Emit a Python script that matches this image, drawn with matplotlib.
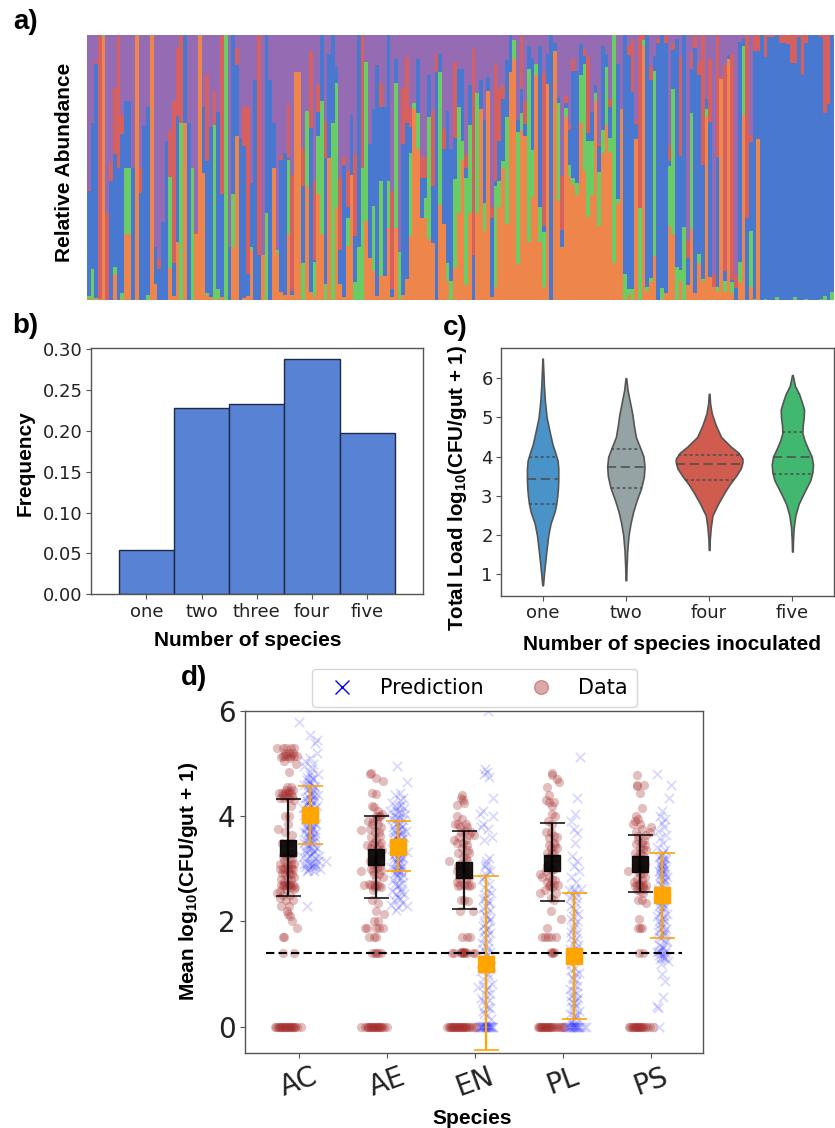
import numpy as np
import matplotlib
matplotlib.use("Agg")
import matplotlib.pyplot as plt
from matplotlib.lines import Line2D

plt.rcParams['mathtext.fontset'] = 'custom'
plt.rcParams['mathtext.bf'] = 'Liberation Sans:bold'
plt.rcParams['mathtext.rm'] = 'Liberation Sans:bold'

W, H = 835., 1128.

# panel a: cumulative tops (percent) per community
orange_top = [.5,.5,.5,.5,99.4,0,0,10,0,.5,
    25,25,0,100,0,0,0,100,6,0,
    0,0,12,1.5,22,0,66.7,0,0,25,
    100,48,2,1,0,.5,1,0,0,20,
    62,0,.8,1.5,19,0,0,17,0,0,
    50,17.6,3,2,25,2,86,86,0,43,
    3,1.2,40,25,0,53.7,0,35,6,1,
    20.5,47,0,0,0,30,16,11,1.5,9,
    9,27,1,27,0,2,8,24,72,57,
    31,31,23,21.4,0,36,28.5,7,0,12,
    33,53,5.7,32.7,0,33,72,26,79,1,
    5,35,50,28.5,86,91,13.6,64,62,21.8,
    39,85,21.8,5,81.5,0,94,37.4,20,69,
    46.5,43.4,39.6,67,48.7,31.4,39.6,75,28,55.6,
    66,56,14,36.7,72,0,2,0,60.7,0,
    96,3.4,6.7,16.7,0,.5,2.5,28,25,0,
    7,0,5.7,26.7,2.5,13.8,7,69,8.8,5,
    3,83.3,3,91,2.5,0,6.7,70,0,4.8,
    0,60.6,0,0,0,0,0,0,0,0,
    0,0,0,0,0,0,0,0,0,0,
    0,0]
green_top = [1.5,11.6,.6,.5,100,0,0,12.5,0,2.5,
    50,50,0,100,0,0,2,100,6,0,
    0,0,46.5,1.5,22,66.7,66.7,0,50,25,
    100,48,2.5,1,66,4,1,100,0,40,
    62,0,.8,1.5,20,0,0,17,33,0,
    50,19,3,2,53,2,86,86,14,71.5,
    3,14.5,62,75,6,53.7,66.7,82,6,1,
    31,47,6.7,20,50,90,16,35.6,1.5,45,
    9,45,1,82,18,2,8,55.6,74.5,70.4,
    31,38.4,69,21.4,0,86,28.5,14,7,45.7,
    73,60,46,66,0,78,72,36.7,79,1,
    43,45,52.5,69,86,98,63.5,70.7,62,87,
    56.6,89,35,25.8,81.5,0,94,74.5,20,72.6,
    51,46,44,85,89,60,60,78,48.4,64,
    88,61,100,38,72,10,4,4,60.7,34.6,
    98,5,8.4,86.4,0,4.4,2.5,50.6,79.5,12.6,
    11.3,27.4,5.7,70.7,2.5,17.4,8,72,8.8,5,
    5,83.3,7,91,6.7,0,14.5,96,0,26,
    .3,60.6,0,.3,0,0,1,0,0,0,
    0,1.3,0,0,.5,0,0,0,.4,1.6,
    0,3]
blue_top = [41,66.7,89,.5,100,0,45,55,50,62.5,
    75,75,50,100,40.5,66,73,100,20,11.6,
    29.6,60,46.5,14,69.5,66.7,100,66.7,50,25,
    100,73,52.5,65.4,66,71,40,100,20,100,
    88.5,61,58,10,44,83,17,17,100,83,
    66.7,19,53,55.6,53.4,3.4,86,86,43,71.5,
    65,15,71,100,53.5,93,100,88,19,51,
    35,70,24,100,50,90,59,72,88.7,73,
    73,100,4,91,18,59,66.7,65.4,74.5,91,
    46,46,85,43,86,93,57,71.5,57,61,
    87,87,50,81,17,78,83,68,84,31,
    45,60,76,90.6,100,98,68,79.6,66.4,96,
    91.4,89,96,28,92.7,100,97,76.5,26.4,74.5,
    64,86.4,86.4,96.6,92,63,71,81,58,96,
    92.7,73,100,89,72,100,92.5,78.6,66.4,34.6,
    98,100,83,92,97,100,97,52.5,94.3,98.5,
    54.5,100,15.7,87,95,85,51,76,67,5,
    54,83.3,11,92.4,7.5,4.4,97.5,98.5,31,59.7,
    94,94,100,91.6,99.4,99.4,100,97,97,96.5,
    89.6,89.6,99.4,85,97,100,100,100,99.4,70.7,
    74,100]
red_top = [42,67,90,100,100,33,52,80,100,70,
    75,75,50,100,50,66,73,100,20,15.5,
    29.6,60,64,75,95,100,100,66.7,50,25.5,
    100,73,85,65.4,79,71,100,100,20,100,
    95,61,73,73,45,83,100,17,100,83,
    66.7,19,54.5,55.6,74,47,86,86,57,71.5,
    94,45,81,100,67.5,93,100,88,46,54,
    48.7,70,55,100,100,90,59,72,89,82,
    73,100,41,91,18,80,91.6,72.6,74.5,91,
    54,54,85,71.6,93,93,64.4,71.5,57,90,
    87,87,55,81,94.6,78,83,68,84,35,
    89.5,80,81,90.6,100,98,68,100,75,96,
    91.4,89,96,85.5,92.7,100,97,76.5,46.8,77,
    66,91,86.4,96.6,94.7,92,71,81,59,96,
    92.7,75.5,100,89,72,100,96,98,67.5,100,
    100,100,88.4,92,98.5,100,100,58,97,98.5,
    91.6,100,22.3,93.3,100,90,100,76,91,10,
    100,84.3,88.7,92.4,93,9.4,97.5,98.5,100,62,
    100,100,100,100,100,100,100,100,100,100,
    100,100,100,100,100,100,100,100,100,100,
    100,100]

# panel b
freq_labels = ['one', 'two', 'three', 'four', 'five']
freq_values = [0.0548, 0.2286, 0.233, 0.2878, 0.198]

# panel c: violin outlines, load value and half width
violin_labels = ['one', 'two', 'four', 'five']
one_y = [.72,1,1.5,2,2.3,2.6,2.8,3.0,3.2,3.4,3.7,3.9,4.1,4.3,4.6,5,5.4,5.8,6.2,6.5]
one_w = [.004,.016,.04,.068,.096,.144,.164,.176,.184,.188,.188,.18,.152,.12,.088,.048,.028,.016,.008,.002]
two_y = [.85,1.2,1.6,2,2.3,2.6,2.9,3.2,3.5,3.75,4,4.2,4.5,4.8,5.1,5.4,5.7,6]
two_w = [.004,.008,.016,.032,.056,.088,.132,.184,.216,.224,.212,.176,.12,.096,.076,.048,.02,.004]
four_y = [1.62,1.9,2.2,2.5,2.8,3.1,3.3,3.5,3.7,3.85,3.95,4.1,4.25,4.5,4.8,5.1,5.35,5.6]
four_w = [.004,.008,.02,.04,.108,.188,.248,.32,.38,.4,.4,.352,.264,.144,.08,.032,.012,.004]
five_y = [1.58,1.9,2.2,2.5,2.8,3.1,3.4,3.6,3.8,4,4.2,4.4,4.6,4.8,5.0,5.2,5.4,5.6,5.8,6.08]
five_w = [.004,.008,.016,.036,.076,.144,.216,.24,.248,.232,.188,.148,.12,.124,.136,.14,.112,.08,.032,.004]
one_q = [2.78, 3.42, 4.0]
two_q = [3.2, 3.73, 4.2]
four_q = [3.4, 3.82, 4.05]
five_q = [3.55, 4.0, 4.62]
violin_colors = ['#4a93c9', '#95a3a4', '#cf5c4e', '#42b76f']

# panel d
species = ['AC', 'AE', 'EN', 'PL', 'PS']
data_mean = [3.4, 3.22, 2.97, 3.12, 3.1]
data_hi = [4.33, 4.0, 3.71, 3.87, 3.64]
data_lo = [2.49, 2.44, 2.24, 2.38, 2.56]
pred_mean = [4.02, 3.41, 1.2, 1.35, 2.5]
pred_hi = [4.575, 3.9, 2.86, 2.55, 3.31]
pred_lo = [3.47, 2.95, -0.44, 0.146, 1.69]

# (jitter, log10 load)
ac_data = [(-.11,5.3),(-.05,5.3),(-.02,5.3),(.03,5.3),(.06,5.3),(-.05,5.15),(-.03,5.15),(0,5.15),(.03,5.15),(.06,5.15),
    (.09,5.15),(-.04,5.05),(.08,5.0),(.01,4.85),(-.01,4.55),(.03,4.55),(.05,4.5),(-.09,4.45),(-.06,4.45),(-.03,4.45),
    (0,4.45),(.03,4.45),(-.08,4.35),(-.04,4.35),(.01,4.35),(.06,4.3),(.03,4.2),(-.03,4.0),(.01,4.0),(-.1,3.75),
    (-.03,3.7),(0,3.85),(.04,3.65),(-.06,3.5),(0,3.5),(.04,3.5),(-.04,3.4),(.05,3.3),(-.05,3.25),(.02,3.2),
    (-.08,3.1),(-.02,3.1),(.03,3.1),(.06,3.1),(-.08,3.0),(-.05,3.0),(0,3.0),(.05,3.0),(-.03,2.9),(.02,2.9),
    (.06,2.85),(-.07,2.8),(-.07,2.7),(-.04,2.7),(-.02,2.7),(0,2.7),(.02,2.7),(.05,2.7),(.07,2.65),(-.11,2.55),
    (-.05,2.5),(.02,2.5),(-.08,2.45),(-.02,2.4),(.05,2.4),(-.07,2.3),(.01,2.3),(-.01,2.2),(0,2.15),(.02,2.1),
    (.04,2.0),(.09,1.87),(-.05,1.7),(-.04,1.7),(-.05,1.4),(.06,1.4),
    (-.03,5.2),(.01,5.2),(.05,5.2),(-.07,5.12),(.02,5.1),(-.02,4.5),(.01,4.48),(-.05,4.4),(-.02,4.38),(.04,4.38),
    (.02,3.3),(-.02,3.25),(.04,3.18),(-.04,3.15),(0,3.08),(.03,3.02),(-.03,3.0),(.01,2.95),(-.06,2.92),(.04,2.9),
    (-.01,2.82),(.03,2.78),(-.04,2.75),(.01,2.72),(-.05,2.68),(.03,2.65),(-.02,2.62),(.06,2.62),(-.08,2.58),
    (-.13,0),(-.12,0),(-.1,0),(-.09,0),(-.08,0),(-.07,0),(-.06,0),(-.05,0),(-.04,0),(-.03,0),(-.02,0),(-.01,0),(0,0),(.01,0),(.02,0),(.03,0),(.04,0),(.05,0),(.06,0),(.07,0),(.09,0),(.13,0)]
ae_data = [(-.05,4.82),(-.06,4.8),(0,4.72),(.07,4.67),(-.04,4.45),(0,4.42),(-.04,4.2),(-.02,4.18),(.02,4.1),(.06,4.05),
    (0,4.0),(.04,4.0),(-.08,3.9),(-.04,3.85),(.02,3.85),(.05,3.8),(-.06,3.75),(-.01,3.7),(.03,3.7),(-.15,3.73),
    (-.05,3.6),(0,3.55),(.05,3.5),(-.09,3.45),(-.04,3.45),(.01,3.4),(.06,3.35),(-.03,3.3),(.03,3.25),(-.06,3.15),
    (0,3.1),(.04,3.05),(-.05,3.0),(-.15,2.95),(-.02,2.9),(.03,2.9),(.07,2.85),(-.12,2.7),(-.05,2.7),(-.02,2.7),
    (.01,2.7),(.05,2.65),(-.03,2.6),(-.04,2.4),(.02,2.35),(0,2.2),(.08,2.15),(-.02,2.0),(.02,2.0),(-.11,1.88),
    (-.09,1.87),(0,1.88),(.03,1.87),(.07,1.87),(-.07,1.7),(-.02,1.7),(0,1.7),(-.04,1.4),(-.01,1.4),(0,1.4),
    (.02,1.4),(.05,1.4),
    (.03,4.0),(.01,3.95),(-.03,3.9),(.04,3.62),(-.02,3.5),(.03,3.45),(-.05,3.4),(.04,3.32),(-.02,3.2),(.02,3.18),
    (-.04,3.1),(.01,3.02),(.05,2.98),(-.03,2.95),(0,2.8),(-.07,2.72),(.03,2.68),(-.01,2.66),
    (-.15,0),(-.11,0),(-.09,0),(-.08,0),(-.07,0),(-.06,0),(-.05,0),(-.04,0),(-.03,0),(-.02,0),(-.01,0),(0,0),(.01,0),(.02,0),(.03,0),(.04,0),(.05,0),(.06,0),(.08,0),(.11,0)]
en_data = [(-.02,4.4),(-.03,4.35),(-.01,4.3),(0,4.25),(-.07,4.22),(-.07,4.0),(-.02,3.95),(-.09,3.85),(-.06,3.85),(.02,3.85),
    (.03,3.8),(-.03,3.7),(.07,3.7),(.1,3.65),(.05,3.65),(-.1,3.55),(-.07,3.5),(-.01,3.5),(.03,3.45),(.04,3.35),
    (-.06,3.3),(.02,3.2),(-.15,3.15),(-.04,3.1),(.03,3.0),(-.07,2.95),(0,2.9),(.05,2.85),(-.07,2.75),(-.04,2.7),
    (0,2.7),(.03,2.7),(.07,2.7),(-.03,2.4),(0,2.4),(.04,2.38),(-.04,2.2),(.09,2.2),(-.02,1.7),(.03,1.7),
    (.06,1.7),(-.12,1.4),(-.1,1.4),(-.03,1.4),(-.01,1.4),(0,1.4),(.01,1.42),(.03,1.4),(.09,1.4),(.11,1.4),
    (-.04,3.8),(.01,3.72),(-.05,3.6),(.02,3.55),(-.02,3.4),(.05,3.3),(-.01,3.22),(.03,3.15),(-.06,3.05),(.0,3.02),
    (-.05,2.82),(.02,2.8),(-.06,2.68),(.05,2.68),(-.02,1.42),(-.03,1.42),(.0,1.42),
    (-.17,0),(-.15,0),(-.14,0),(-.13,0),(-.12,0),(-.11,0),(-.1,0),(-.09,0),(-.08,0),(-.07,0),(-.06,0),(-.05,0),(-.04,0),(-.03,0),(-.02,0),(-.01,0),(0,0),(.01,0),(.02,0),(.03,0),(.05,0),(.07,0),(.09,0),(.12,0)]
pl_data = [(0,4.83),(.0,4.78),(.05,4.7),(.07,4.65),(-.05,4.55),(-.03,4.4),(-.06,4.3),(-.03,4.28),(.02,4.28),(0,4.2),
    (0,4.05),(.03,4.0),(-.04,3.9),(0,3.85),(-.06,3.7),(-.01,3.7),(.05,3.6),(.02,3.5),(-.03,3.45),(.05,3.4),
    (-.05,3.3),(0,3.3),(.04,3.2),(-.04,3.1),(.02,3.0),(-.06,2.95),(-.12,2.9),(-.1,2.85),(0,2.8),(-.05,2.75),
    (-.02,2.7),(.02,2.7),(.06,2.7),(-.07,2.6),(-.12,2.55),(.04,2.55),(-.01,2.45),(.02,2.4),(-.01,2.2),(.09,2.05),
    (-.05,1.88),(-.1,1.7),(-.07,1.7),(-.04,1.7),(-.01,1.7),(.04,1.7),(0,1.4),(.02,1.42),(.01,1.4),
    (.02,3.62),(-.03,3.58),(.03,3.45),(-.01,3.4),(.02,3.3),(-.03,3.22),(.03,3.12),(-.05,3.05),(0,2.98),(-.03,2.85),
    (.03,2.78),(-.03,2.68),(.0,2.65),(-.01,1.42),
    (-.14,0),(-.13,0),(-.12,0),(-.11,0),(-.1,0),(-.09,0),(-.08,0),(-.07,0),(-.06,0),(-.05,0),(-.04,0),(-.03,0),(-.02,0),(-.01,0),(0,0),(.02,0),(.04,0),(.06,0),(.08,0),(.1,0),(.12,0)]
ps_data = [(-.03,4.78),(-.03,4.6),(.04,4.6),(-.03,4.57),(0,4.45),(.02,4.15),(-.04,4.0),(-.02,3.95),(-.05,3.9),(-.07,3.85),
    (0,3.85),(.11,3.8),(-.04,3.7),(.1,3.7),(.06,3.65),(-.02,3.55),(.02,3.5),(.05,3.45),(0,3.4),(.06,3.35),
    (-.05,3.3),(.03,3.25),(-.02,3.15),(.05,3.1),(-.04,3.05),(.02,3.0),(-.11,2.95),(0,2.9),(.05,2.85),(-.06,2.75),
    (-.03,2.7),(0,2.7),(.03,2.7),(.06,2.7),(-.03,2.6),(.03,2.55),(-.02,2.4),(.02,2.4),(.06,2.35),(-.01,2.05),
    (-.02,1.88),(0,1.88),(.02,1.88),(-.01,1.4),(.03,1.4),
    (.02,3.75),(-.02,3.62),(.04,3.55),(-.04,3.48),(.03,3.38),(.0,3.3),(-.03,3.22),(.03,3.18),(.0,3.08),(.04,3.02),
    (-.02,2.95),(.03,2.92),(-.03,2.8),(.02,2.78),(-.05,2.68),(.05,2.62),(.0,2.58),(.03,2.65),(-.01,2.72),
    (-.1,0),(-.09,0),(-.08,0),(-.07,0),(-.06,0),(-.05,0),(-.04,0),(-.03,0),(-.02,0),(-.01,0),(0,0),(.01,0),(.02,0),(.03,0),(.05,0),(.07,0),(.1,0),(.13,0)]

ac_pred = [(-.11,5.8),(0,5.55),(.07,5.45),(.05,5.4),(.07,5.2),(0,5.1),(-.05,5.05),(.03,5.0),(-.06,4.95),(0,4.85),
    (.08,4.8),(-.03,4.75),(.03,4.7),(-.01,4.65),(-.06,4.6),(.05,4.55),(-.03,4.5),(.02,4.45),(.08,4.4),(-.05,4.35),
    (0,4.3),(.05,4.3),(-.02,4.25),(.07,4.2),(-.07,4.15),(.02,4.1),(-.03,4.05),(.04,4.0),(-.05,3.95),(.01,3.9),
    (.06,3.85),(-.03,3.8),(.03,3.75),(-.06,3.7),(0,3.65),(.05,3.6),(-.04,3.55),(.02,3.5),(-.01,3.45),(.07,3.4),
    (-.05,3.35),(.03,3.3),(.09,3.25),(-.03,3.2),(.16,3.15),(.08,3.15),(-.06,3.1),(.02,3.05),(.1,3.0),(-.03,2.95),
    (.04,2.95),(-.03,2.3),(.02,4.92),(-.02,4.6),(.03,4.5),(.0,4.42),(.04,4.38),(-.03,4.28),(.01,4.2),(-.01,4.12),
    (.03,4.05),(-.06,4.02),(.0,3.98),(-.02,3.9),(.04,3.88),(.02,3.82),(-.04,3.78),(.0,3.72),(.05,3.68),(-.02,3.62),
    (.02,3.58),(-.06,3.5),(.05,3.42),(-.02,3.38),(.01,3.28),(-.07,3.22),(.05,3.12),(-.01,3.02),
    (.0,4.78),(.02,4.72),(-.03,4.68),(.01,4.62),(.04,4.58),(-.01,4.52),(.02,4.4),(-.02,4.36),(.01,4.32),(.03,4.26),
    (-.04,4.22),(.0,4.18),(.04,4.14),(-.02,4.08),(.01,4.02),(-.03,3.96),(.03,3.94),(.0,3.86),(-.04,3.84),(.02,3.78),
    (.01,3.7),(-.03,3.66),(.03,3.62),(-.01,3.56),(.04,3.52),(-.03,3.46),(.01,3.4),(.04,3.34),(-.04,3.3),(.0,3.24),
    (.05,3.2),(-.03,3.12),(.02,3.12),(-.05,3.03),(.04,3.03),(-.02,2.98),(.06,3.05),(.0,3.1)]
ae_pred = [(-.01,4.95),(.09,4.65),(.02,4.45),(-.03,4.4),(.05,4.35),(.02,4.3),(-.06,4.25),(.03,4.22),(-.02,4.18),(.06,4.15),
    (-.08,4.1),(.0,4.08),(.07,4.05),(-.04,4.02),(.02,3.98),(-.06,3.95),(.05,3.92),(.0,3.88),(-.02,3.85),(.04,3.82),
    (-.05,3.8),(.01,3.76),(.08,3.72),(-.03,3.7),(.03,3.66),(-.01,3.62),(.06,3.6),(-.05,3.56),(.02,3.52),(-.02,3.48),
    (.04,3.45),(0,3.42),(-.06,3.38),(.03,3.35),(.09,3.32),(-.03,3.28),(.01,3.25),(.05,3.2),(-.04,3.18),(.02,3.14),
    (-.01,3.1),(.04,3.06),(-.07,3.04),(.0,3.0),(.03,2.96),(-.03,2.92),(.05,2.88),(0,2.84),(-.05,2.78),(.04,2.74),
    (-.01,2.68),(.03,2.62),(-.06,2.58),(.06,2.52),(.0,2.46),(-.04,2.4),(.04,2.36),(-.07,2.32),(.09,2.3),(.0,2.27),(-.02,2.22),
    (.02,3.5),(-.02,3.34),(.01,3.08),(.03,3.78),(-.03,3.6),(.0,3.2),(-.01,2.95),
    (.01,4.2),(-.02,4.12),(.03,4.06),(.0,3.96),(-.03,3.92),(.02,3.86),(-.04,3.74),(.04,3.7),(.0,3.64),(-.02,3.58),
    (.03,3.56),(-.04,3.46),(.0,3.44),(.04,3.38),(-.01,3.36),(.02,3.3),(-.04,3.26),(.03,3.22),(-.02,3.14),(.0,3.12),
    (.03,3.02),(-.03,3.0),(.01,2.94),(-.01,2.88),(.03,2.82),(-.03,2.72),(.01,2.7),(.03,2.56),(-.02,2.52),(.02,2.42)]
en_pred = [(.02,6.0),(-.01,4.9),(.01,4.85),(-.02,4.8),(.03,4.75),(.07,4.35),(-.03,4.1),(-.06,4.05),(.07,4.0),(-.03,3.85),
    (-.05,3.8),(.02,3.75),(.06,3.6),(-.02,3.55),(.03,3.2),(.0,3.15),(-.01,3.05),(.04,2.95),(.0,2.88),(-.04,2.8),
    (.03,2.72),(-.02,2.65),(.05,2.55),(.0,2.5),(-.03,2.42),(.03,2.35),(.0,2.3),(.04,2.22),(-.02,2.15),(.01,2.08),
    (.03,2.0),(-.03,1.92),(.0,1.85),(.04,1.78),(-.02,1.7),(.02,1.62),(0,1.55),(-.03,1.48),(.04,1.42),(.01,1.35),
    (-.02,1.25),(.05,1.15),(-.05,1.05),(.02,1.0),(-.03,.9),(.06,.82),(-.08,.75),(.0,.7),(.04,.62),(-.05,.55),
    (.03,.5),(-.01,.42),(.04,.35),(-.03,.3),(.01,.22),(.05,.15),
    (.0,3.1),(.02,2.98),(-.02,2.84),(.02,2.6),(-.01,2.45),(.02,2.38),(-.03,2.25),(.0,2.12),(.04,2.05),(-.01,1.96),
    (.02,1.88),(-.02,1.8),(.01,1.72),(-.04,1.6),(.02,1.5),(.0,1.4),(-.03,1.32),(.02,1.2),(-.01,1.1),(.03,.95),
    (-.03,.8),(.02,.75),(.0,.6),(-.03,.48),(.02,.38),(-.02,.25),
    (-.07,0),(-.06,0),(-.05,0),(-.04,0),(-.03,0),(-.02,0),(-.01,0),(0,0),(.01,0),(.02,0),(.03,0),(.04,0),(.05,0),(.06,0),(.07,0),(0,.02),(-.02,.02),(.02,.02),(-.04,.02),(.04,.02)]
pl_pred = [(.06,5.13),(.03,4.35),(.01,4.05),(-.03,3.9),(0,3.75),(.03,3.68),(.01,3.5),(-.02,3.25),(.03,3.15),(0,3.05),
    (.05,2.95),(-.03,2.85),(.02,2.75),(.07,2.62),(-.05,2.6),(0,2.58),(.03,2.52),(-.04,2.45),(.02,2.35),(.0,2.25),
    (.04,2.15),(-.03,2.05),(.01,1.95),(-.01,1.85),(.03,1.78),(-.03,1.7),(.0,1.62),(.04,1.55),(-.04,1.48),(.02,1.42),
    (-.01,1.36),(.03,1.28),(-.03,1.2),(.01,1.12),(.05,1.02),(-.02,.95),(.02,.88),(.0,.8),(-.04,.72),(.03,.65),
    (-.01,.6),(.04,.55),(-.03,.48),(.02,.42),(.0,.35),(.05,.3),(-.04,.25),(.02,.18),(.0,.12),(-.03,.08),
    (.0,2.62),(-.02,2.5),(.02,2.44),(-.03,2.3),(.01,2.2),(-.01,2.1),(.03,2.0),(.0,1.9),(-.03,1.8),(.02,1.68),
    (-.01,1.58),(.03,1.5),(.0,1.32),(-.03,1.08),(.02,1.0),(-.01,.9),(.03,.78),(.0,.68),(-.03,.58),(.02,.5),(.0,.45),(-.02,.38),(.03,.22),(.0,.2),
    (-.08,0),(-.06,0),(-.05,0),(-.04,0),(-.03,0),(-.02,0),(-.01,0),(0,0),(.01,0),(.02,0),(.03,0),(.04,0),(.05,0),(.07,0),(.1,0),(.12,0),(0,.03),(.02,.03),(-.02,.03)]
ps_pred = [(-.05,4.8),(.09,4.6),(.07,4.35),(0,4.1),(-.02,4.0),(.03,3.95),(0,3.88),(.02,3.8),(-.04,3.72),(.04,3.65),
    (-.02,3.58),(.01,3.5),(-.05,3.42),(.03,3.35),(0,3.28),(-.03,3.22),(.04,3.18),(.01,3.12),(-.01,3.06),(.03,3.0),
    (-.03,2.95),(.0,2.9),(.05,2.85),(-.02,2.8),(.02,2.75),(.0,2.68),(-.04,2.62),(.03,2.58),(.01,2.52),(-.02,2.46),
    (.04,2.42),(0,2.36),(-.03,2.3),(.02,2.25),(-.01,2.2),(.05,2.15),(-.05,2.1),(.01,2.05),(.03,2.0),(-.02,1.95),
    (.0,1.9),(.04,1.85),(-.04,1.8),(.02,1.74),(-.01,1.68),(.05,1.62),(-.03,1.56),(.01,1.5),(.04,1.46),(-.05,1.42),
    (.0,1.38),(.03,1.33),(-.02,1.28),(.06,1.25),(-.01,1.2),(.03,.87),(0,1.0),(.01,.57),(-.05,.4),(-.04,.35),(-.03,0),
    (.01,3.05),(.0,2.98),(.03,2.78),(-.02,2.6),(.01,2.4),(-.03,2.0),(.02,1.78),(-.01,1.45),(.02,1.3),
    (.01,3.3),(-.01,3.25),(.02,3.2),(.0,3.15),(-.02,3.1),(.02,3.08),(-.01,3.02),(.01,2.95),(.03,2.9),(-.02,2.88),
    (.01,2.82),(-.02,2.72),(.02,2.66),(-.01,2.56),(.01,2.48),(-.02,2.38),(.02,2.32),(.0,2.28),(-.02,2.15),(.02,2.1),
    (.0,1.98),(-.02,1.86),(.02,1.82),(-.03,1.7),(.03,1.62),(.0,1.52),(-.03,1.44),(.03,1.4),(.0,1.32),(-.03,1.36)]

data_clouds = [ac_data, ae_data, en_data, pl_data, ps_data]
pred_clouds = [ac_pred, ae_pred, en_pred, pl_pred, ps_pred]
jitter_scale = 1.15


def axes_px(l, t, r, b):
    return fig.add_axes([l / W, 1 - b / H, (r - l) / W, (b - t) / H])


def label_px(x, y, s, size, rotation=0):
    fig.text(x / W, 1 - y / H, s, fontsize=size, fontweight='bold', family='Liberation Sans',
             ha='center', va='center', rotation=rotation, color='black')


def frame(ax):
    for s in ax.spines.values():
        s.set_color('#555555')
        s.set_linewidth(1.0)
    ax.tick_params(color='#555555', labelcolor='#222222')


fig = plt.figure(figsize=(W / 100, H / 100), dpi=100)

# a) stacked abundance, painted top layer first so no seams between columns
axa = axes_px(87, 35, 834, 300)
n_comm = len(orange_top)
edges = np.arange(n_comm + 1) - 0.5
layers = [(np.full(n_comm, 100.), '#956cb4'), (red_top, '#d65f5f'), (blue_top, '#4878d0'),
          (green_top, '#6acc64'), (orange_top, '#ee854a')]
for top, c in layers:
    axa.stairs(top, edges, baseline=0, fill=True, color=c, linewidth=0)
axa.set_xlim(-0.5, n_comm - 0.5)
axa.set_ylim(0, 100)
axa.axis('off')

# b) frequency bars
axb = axes_px(91, 347.7, 422.7, 594.3)
axb.bar(range(5), freq_values, width=1.0, color='#5882d3', edgecolor='#1f2a44', linewidth=1.0)
axb.set_xlim(-1, 5)
axb.set_ylim(0, 0.302)
axb.set_xticks(range(5))
axb.set_xticklabels(freq_labels)
axb.set_yticks([0, .05, .1, .15, .2, .25, .3])
axb.set_yticklabels(['0.00', '0.05', '0.10', '0.15', '0.20', '0.25', '0.30'])
axb.tick_params(labelsize=13, pad=2.5)
frame(axb)

# c) violins
axc = axes_px(501, 348, 834, 596)
violins = [(one_y, one_w, one_q), (two_y, two_w, two_q), (four_y, four_w, four_q), (five_y, five_w, five_q)]
for i, (vy, vw, vq) in enumerate(violins):
    vy = np.array(vy)
    vw = np.array(vw)
    axc.fill_betweenx(vy, i - vw, i + vw, facecolor=violin_colors[i], edgecolor='#555555', linewidth=1.2)
    for j, q in enumerate(vq):
        hw = np.interp(q, vy, vw)
        ls = (0, (6, 3)) if j == 1 else (0, (2, 1.8))
        axc.plot([i - hw, i + hw], [q, q], color='#4c4c4c', lw=1.1, ls=ls)
axc.set_xlim(-0.5, 3.5)
axc.set_ylim(0.447, 6.77)
axc.set_xticks(range(4))
axc.set_xticklabels(violin_labels)
axc.set_yticks([1, 2, 3, 4, 5, 6])
axc.tick_params(labelsize=13, pad=2.5)
frame(axc)

# d) data vs prediction
axd = axes_px(245.3, 711, 703.3, 1052.7)
for i in range(5):
    d = np.array(data_clouds[i])
    p = np.array(pred_clouds[i])
    axd.scatter(i - 0.125 + d[:, 0] * jitter_scale, d[:, 1], s=44, color='brown', alpha=0.3, linewidths=0)
    axd.scatter(i + 0.125 + p[:, 0] * jitter_scale, p[:, 1], s=45, color='blue', marker='x', alpha=0.15, linewidths=1.3)
    axd.errorbar(i - 0.125, data_mean[i], yerr=[[data_mean[i] - data_lo[i]], [data_hi[i] - data_mean[i]]],
                 fmt='s', color='black', ms=11.5, capsize=9, elinewidth=1.6, capthick=1.2, alpha=0.9, zorder=5)
    axd.errorbar(i + 0.125, pred_mean[i], yerr=[[pred_mean[i] - pred_lo[i]], [pred_hi[i] - pred_mean[i]]],
                 fmt='s', color='orange', ms=11.5, capsize=9, elinewidth=1.6, capthick=1.2, zorder=5)
axd.hlines(1.4, -0.375, 4.36, color='black', linestyles=(0, (4, 2)), lw=1.5, zorder=4)
axd.set_xlim(-0.612, 4.6)
axd.set_ylim(-0.494, 6)
axd.set_xticks(range(5))
axd.set_xticklabels(species, rotation=20)
axd.set_yticks([0, 2, 4, 6])
axd.tick_params(axis='both', labelsize=20)
frame(axd)
handles = [Line2D([], [], marker='x', color='blue', ls='none', ms=10, mew=1.0),
           Line2D([], [], marker='o', color='brown', alpha=0.4, ls='none', ms=10)]
fig.legend(handles, ['Prediction', 'Data'], ncol=2, fontsize=15, loc='center',
           bbox_to_anchor=(474.5 / W, 1 - 688 / H), columnspacing=1.75, handletextpad=0.8, borderpad=0.45)

label_px(26, 22, 'a)', 20)
label_px(25, 326, 'b)', 20)
label_px(455, 328, 'c)', 20)
label_px(194, 678, 'd)', 20)
label_px(64, 162, 'Relative Abundance', 15, 90)
label_px(25, 463, 'Frequency', 15, 90)
label_px(248, 641, 'Number of species', 15)
label_px(458, 488, r'Total Load log$_{\mathbf{10}}$(CFU/gut + 1)', 14.8, 90)
label_px(672, 645, 'Number of species inoculated', 15)
label_px(188, 881, r'Mean log$_{\mathbf{10}}$(CFU/gut + 1)', 15, 90)
label_px(472, 1118, 'Species', 15)

fig.savefig('out.png', dpi=100)
